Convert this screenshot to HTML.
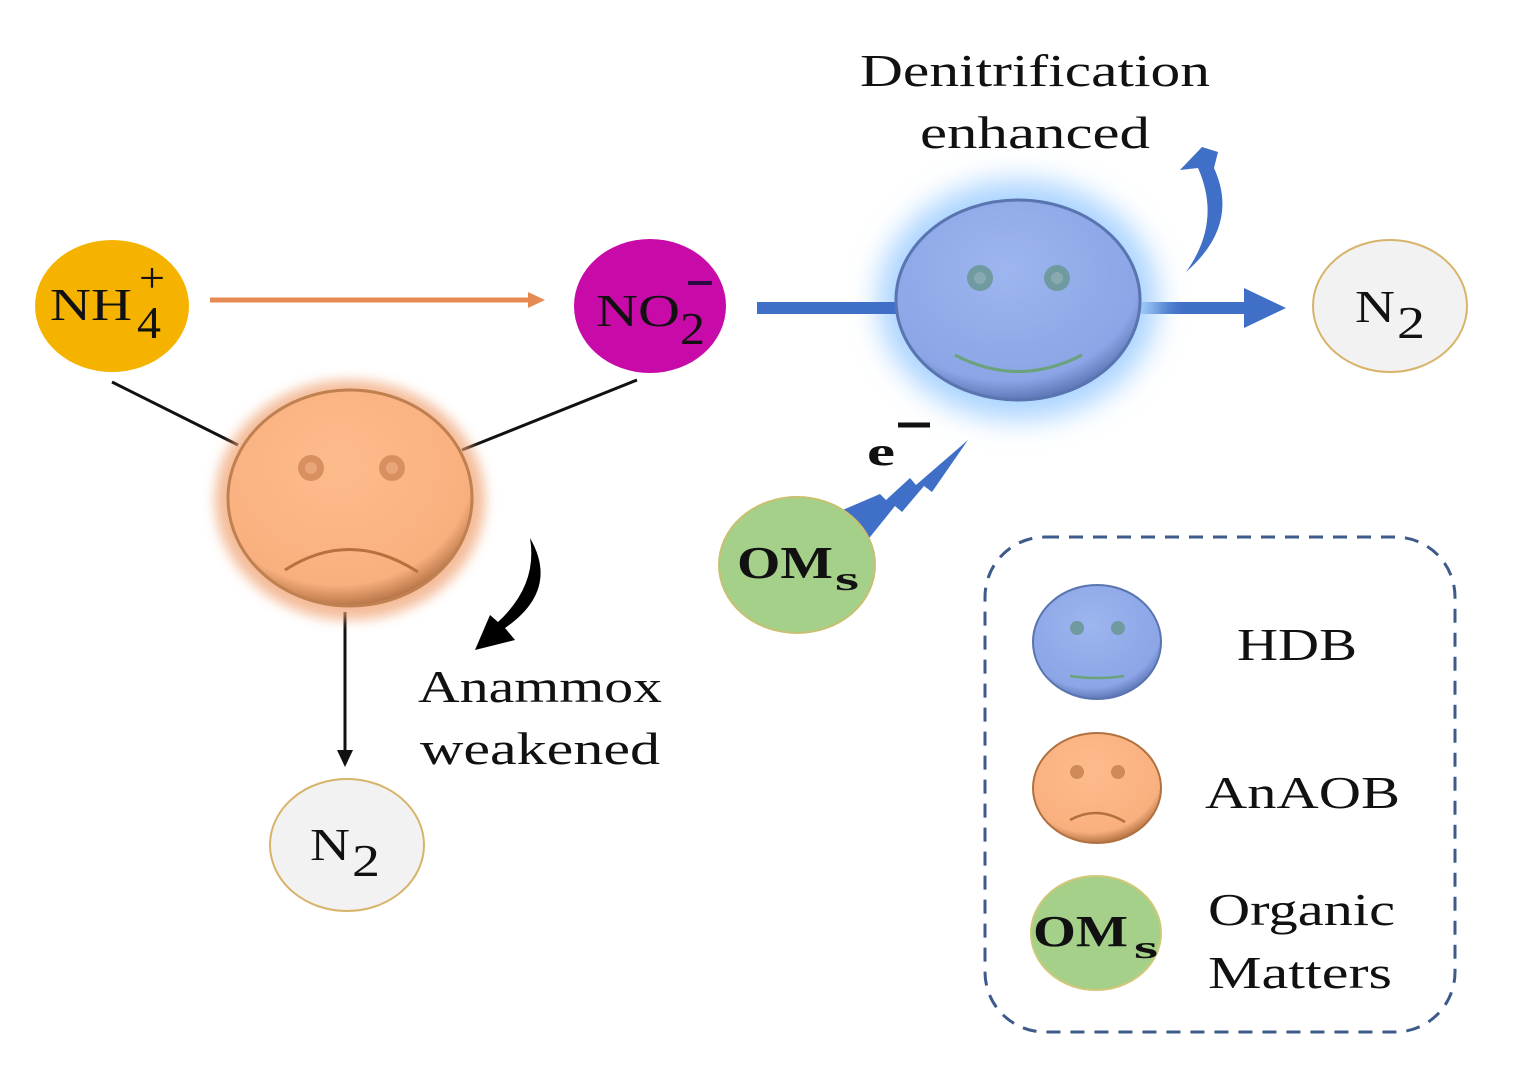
<!DOCTYPE html>
<html><head><meta charset="utf-8"><style>
html,body{margin:0;padding:0;background:#fff;}
svg{display:block}
text{font-family:"Liberation Serif",serif;fill:#111}
</style></head><body>
<svg width="1518" height="1085" viewBox="0 0 1518 1085" xmlns="http://www.w3.org/2000/svg">
<defs>
<radialGradient id="blue" cx="45%" cy="35%" r="65%"><stop offset="0" stop-color="#9db6f0"/><stop offset="0.85" stop-color="#8ba5e6"/><stop offset="1" stop-color="#5f79b8"/></radialGradient>
<radialGradient id="orange" cx="45%" cy="35%" r="65%"><stop offset="0" stop-color="#fdbb8c"/><stop offset="0.85" stop-color="#f9b07f"/><stop offset="1" stop-color="#b87648"/></radialGradient>
<filter id="glow" x="-40%" y="-40%" width="180%" height="180%"><feGaussianBlur stdDeviation="14"/></filter>
<filter id="glow2" x="-30%" y="-30%" width="160%" height="160%"><feGaussianBlur stdDeviation="6"/></filter>
</defs>

<!-- connectors -->
<line x1="112" y1="382" x2="238" y2="445" stroke="#111" stroke-width="3"/>
<line x1="637" y1="380" x2="462" y2="450" stroke="#111" stroke-width="3"/>
<line x1="345" y1="612" x2="345" y2="752" stroke="#111" stroke-width="3"/>
<polygon points="337,750 353,750 345,767" fill="#111"/>
<line x1="210" y1="300" x2="530" y2="300" stroke="#e58a50" stroke-width="5"/>
<polygon points="528,292 545,300 528,308" fill="#e58a50"/>

<!-- NH4 -->
<ellipse cx="112" cy="306" rx="77" ry="66" fill="#f5b300"/>
<text x="50" y="320" font-size="46" textLength="82" lengthAdjust="spacingAndGlyphs">NH</text>
<text x="137" y="338" font-size="46" textLength="24" lengthAdjust="spacingAndGlyphs">4</text>
<text x="139" y="292" font-size="42" textLength="26" lengthAdjust="spacingAndGlyphs">+</text>

<!-- NO2 -->
<ellipse cx="650" cy="306" rx="76" ry="67" fill="#c80aa8"/>
<text x="596" y="326" font-size="46" fill="#2a0a40" textLength="84" lengthAdjust="spacingAndGlyphs">NO</text>
<text x="680" y="344" font-size="46" fill="#2a0a40" textLength="25" lengthAdjust="spacingAndGlyphs">2</text>
<line x1="688" y1="283" x2="712" y2="283" stroke="#2a0a40" stroke-width="4"/>

<!-- blue line -->
<line x1="757" y1="308" x2="1270" y2="308" stroke="#3f6fc6" stroke-width="12"/>
<polygon points="1244,288 1286,308 1244,328" fill="#3f6fc6"/>

<!-- HDB -->
<ellipse cx="1018" cy="300" rx="140" ry="120" fill="#aad4ff" filter="url(#glow)"/>
<line x1="757" y1="308" x2="900" y2="308" stroke="#3f6fc6" stroke-width="12"/>
<ellipse cx="1018" cy="300" rx="122" ry="100" fill="url(#blue)" stroke="#5a74b0" stroke-width="3"/>
<circle cx="980" cy="278" r="13" fill="#6f9aa0"/><circle cx="980" cy="278" r="6" fill="#86aab0"/>
<circle cx="1057" cy="278" r="13" fill="#6f9aa0"/><circle cx="1057" cy="278" r="6" fill="#86aab0"/>
<path d="M955 355 Q1018 388 1082 355" stroke="#6aa27a" stroke-width="3" fill="none"/>

<!-- curved blue arrow -->
<path d="M1186 272 Q1222 222 1198 168 L1180 170 L1202 147 L1218 152 L1214 168 Q1240 225 1186 272 Z" fill="#3f6fc6"/>

<text x="860" y="86" font-size="46" textLength="350" lengthAdjust="spacingAndGlyphs">Denitrification</text>
<text x="920" y="148" font-size="46" textLength="230" lengthAdjust="spacingAndGlyphs">enhanced</text>

<!-- N2 right -->
<ellipse cx="1390" cy="306" rx="77" ry="66" fill="#f2f2f2" stroke="#d8b46a" stroke-width="2"/>
<text x="1355" y="322" font-size="46" textLength="40" lengthAdjust="spacingAndGlyphs">N</text>
<text x="1397" y="338" font-size="46" textLength="28" lengthAdjust="spacingAndGlyphs">2</text>

<!-- sad face -->
<ellipse cx="350" cy="500" rx="135" ry="120" fill="#f0a070" opacity="0.7" filter="url(#glow2)"/>
<ellipse cx="350" cy="498" rx="122" ry="108" fill="url(#orange)" stroke="#c08050" stroke-width="3"/>
<circle cx="311" cy="468" r="13" fill="#d89060"/><circle cx="311" cy="468" r="6" fill="#e8a678"/>
<circle cx="392" cy="468" r="13" fill="#d89060"/><circle cx="392" cy="468" r="6" fill="#e8a678"/>
<path d="M285 570 Q350 528 418 572" stroke="#b87040" stroke-width="3" fill="none"/>

<!-- black curved arrow -->
<path d="M530 538 Q560 590 505 628 L515 640 L475 650 L490 615 L498 622 Q538 585 530 538 Z" fill="#000"/>
<text x="418" y="702" font-size="46" textLength="244" lengthAdjust="spacingAndGlyphs">Anammox</text>
<text x="420" y="764" font-size="46" textLength="240" lengthAdjust="spacingAndGlyphs">weakened</text>

<!-- N2 bottom -->
<ellipse cx="347" cy="845" rx="77" ry="66" fill="#f2f2f2" stroke="#d8b46a" stroke-width="2"/>
<text x="310" y="860" font-size="46" textLength="40" lengthAdjust="spacingAndGlyphs">N</text>
<text x="352" y="876" font-size="46" textLength="28" lengthAdjust="spacingAndGlyphs">2</text>

<!-- lightning -->
<polygon points="838,512 880,494 886,500 910,478 916,485 968,440 932,492 924,486 902,512 895,506 866,542" fill="#3f6fc6"/>
<text x="867" y="465" font-size="40" font-weight="bold" textLength="28" lengthAdjust="spacingAndGlyphs">e</text>
<line x1="898" y1="425" x2="930" y2="425" stroke="#111" stroke-width="5"/>

<!-- OMs -->
<ellipse cx="797" cy="565" rx="78" ry="68" fill="#a5d08a" stroke="#c8c070" stroke-width="2"/>
<text x="737" y="578" font-size="46" font-weight="bold" textLength="96" lengthAdjust="spacingAndGlyphs">OM</text>
<text x="835" y="590" font-size="34" font-weight="bold" textLength="24" lengthAdjust="spacingAndGlyphs">s</text>

<!-- legend -->
<rect x="985" y="537" width="470" height="495" rx="60" fill="none" stroke="#3d5a8a" stroke-width="3" stroke-dasharray="14,10"/>
<ellipse cx="1097" cy="642" rx="64" ry="57" fill="url(#blue)" stroke="#5a74b0" stroke-width="2"/>
<circle cx="1077" cy="628" r="7" fill="#6f9aa0"/><circle cx="1118" cy="628" r="7" fill="#6f9aa0"/>
<path d="M1070 676 Q1097 680 1124 676" stroke="#6aa27a" stroke-width="2.5" fill="none"/>
<text x="1237" y="660" font-size="46" textLength="120" lengthAdjust="spacingAndGlyphs">HDB</text>

<ellipse cx="1097" cy="788" rx="64" ry="55" fill="url(#orange)" stroke="#b07040" stroke-width="2"/>
<circle cx="1077" cy="772" r="7" fill="#d08a5a"/><circle cx="1118" cy="772" r="7" fill="#d08a5a"/>
<path d="M1070 820 Q1097 805 1125 822" stroke="#b07040" stroke-width="2.5" fill="none"/>
<text x="1205" y="808" font-size="46" textLength="195" lengthAdjust="spacingAndGlyphs">AnAOB</text>

<ellipse cx="1096" cy="933" rx="65" ry="57" fill="#a5d08a" stroke="#d0c878" stroke-width="2"/>
<text x="1033" y="946" font-size="44" font-weight="bold" textLength="95" lengthAdjust="spacingAndGlyphs">OM</text>
<text x="1134" y="958" font-size="32" font-weight="bold" textLength="24" lengthAdjust="spacingAndGlyphs">s</text>
<text x="1208" y="925" font-size="46" textLength="187" lengthAdjust="spacingAndGlyphs">Organic</text>
<text x="1208" y="988" font-size="46" textLength="184" lengthAdjust="spacingAndGlyphs">Matters</text>
</svg>
</body></html>
